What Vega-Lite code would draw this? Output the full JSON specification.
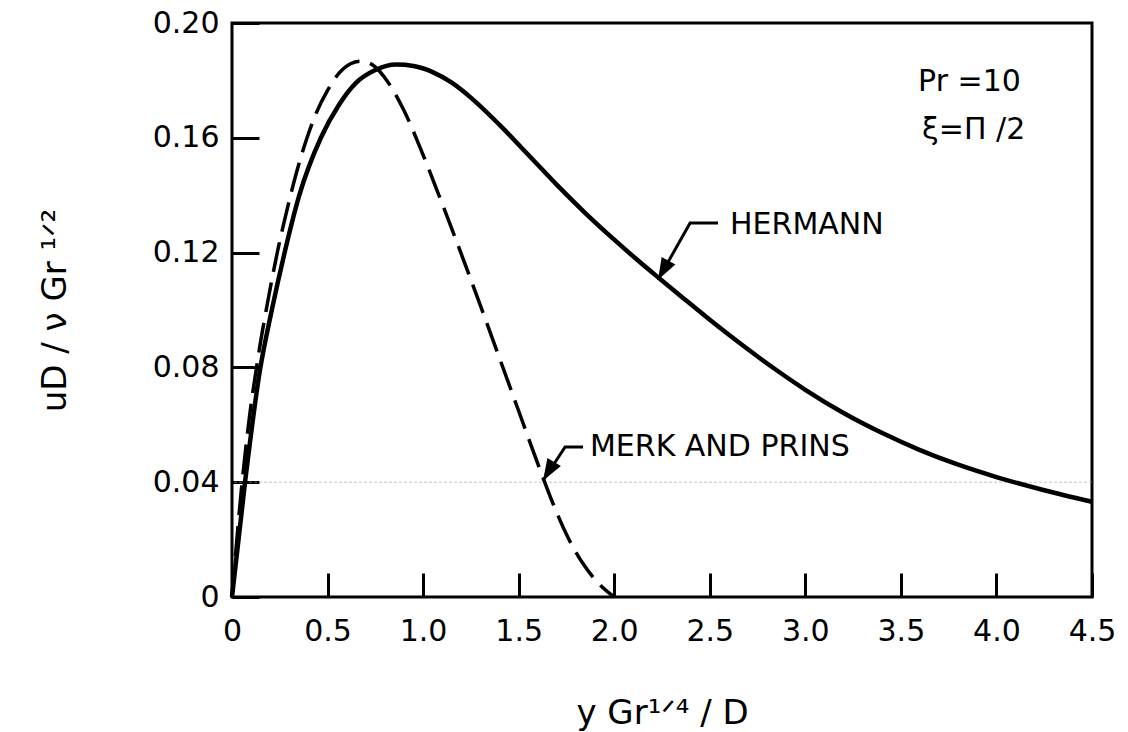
{
  "$schema": "https://vega.github.io/schema/vega-lite/v6.json",
  "width": 860,
  "height": 574,
  "autosize": {"type": "none"},
  "padding": {"left": 232, "top": 23, "right": 36, "bottom": 135},
  "background": "white",
  "config": {
    "view": {"stroke": "black", "strokeWidth": 3},
    "font": "DejaVu Sans",
    "axis": {
      "domain": false,
      "grid": false,
      "tickColor": "black",
      "tickWidth": 3,
      "labelColor": "black",
      "labelFontSize": 30,
      "labelFlush": false,
      "labelOverlap": false,
      "labelBound": false,
      "titleColor": "black",
      "titleFontWeight": "normal"
    }
  },
  "datasets": {
    "hermann": [
      {"x": 0, "y": 0},
      {"x": 0.07, "y": 0.041},
      {"x": 0.145, "y": 0.0785},
      {"x": 0.21, "y": 0.1005},
      {"x": 0.27, "y": 0.1185},
      {"x": 0.35, "y": 0.1395},
      {"x": 0.465, "y": 0.16},
      {"x": 0.56, "y": 0.1715},
      {"x": 0.65, "y": 0.1792},
      {"x": 0.75, "y": 0.1836},
      {"x": 0.86, "y": 0.1855},
      {"x": 0.95, "y": 0.185},
      {"x": 1.05, "y": 0.1829},
      {"x": 1.15, "y": 0.1792},
      {"x": 1.26, "y": 0.1734},
      {"x": 1.4, "y": 0.1645},
      {"x": 1.55, "y": 0.1541},
      {"x": 1.7, "y": 0.1436},
      {"x": 1.85, "y": 0.1337},
      {"x": 2.0, "y": 0.1245},
      {"x": 2.12, "y": 0.1175},
      {"x": 2.24, "y": 0.1108},
      {"x": 2.36, "y": 0.1042},
      {"x": 2.5, "y": 0.0966},
      {"x": 2.67, "y": 0.0878},
      {"x": 2.85, "y": 0.079},
      {"x": 3.0, "y": 0.0722},
      {"x": 3.2, "y": 0.0641},
      {"x": 3.4, "y": 0.0572},
      {"x": 3.6, "y": 0.0512},
      {"x": 3.8, "y": 0.0461},
      {"x": 4.0, "y": 0.0418},
      {"x": 4.25, "y": 0.0372},
      {"x": 4.5, "y": 0.0332}
    ],
    "merk": [
      {"x": 0, "y": 0},
      {"x": 0.05, "y": 0.038},
      {"x": 0.09, "y": 0.062},
      {"x": 0.14, "y": 0.085},
      {"x": 0.19, "y": 0.104},
      {"x": 0.24, "y": 0.121},
      {"x": 0.29, "y": 0.1355},
      {"x": 0.34, "y": 0.1485},
      {"x": 0.39, "y": 0.1595},
      {"x": 0.44, "y": 0.1685},
      {"x": 0.5, "y": 0.1765},
      {"x": 0.56, "y": 0.1825},
      {"x": 0.62, "y": 0.1858},
      {"x": 0.675, "y": 0.1867},
      {"x": 0.74, "y": 0.1852},
      {"x": 0.81, "y": 0.18},
      {"x": 0.9, "y": 0.1695},
      {"x": 1.0, "y": 0.154},
      {"x": 1.1, "y": 0.137},
      {"x": 1.2, "y": 0.1195},
      {"x": 1.3, "y": 0.1015},
      {"x": 1.4, "y": 0.0832},
      {"x": 1.5, "y": 0.0648},
      {"x": 1.6, "y": 0.0465},
      {"x": 1.68, "y": 0.0325},
      {"x": 1.76, "y": 0.0205},
      {"x": 1.84, "y": 0.0113},
      {"x": 1.92, "y": 0.0046},
      {"x": 2.0, "y": 0}
    ],
    "leaders": [
      {"arrow": "hermann", "k": 0, "x": 2.543, "y": 0.1303},
      {"arrow": "hermann", "k": 1, "x": 2.397, "y": 0.1303},
      {"arrow": "hermann", "k": 2, "x": 2.229, "y": 0.1105},
      {"arrow": "merk", "k": 0, "x": 1.837, "y": 0.0523},
      {"arrow": "merk", "k": 1, "x": 1.743, "y": 0.0523},
      {"arrow": "merk", "k": 2, "x": 1.627, "y": 0.0405}
    ],
    "notes": [
      {"text": "HERMANN", "x": 2.606, "y": 0.1296},
      {"text": "MERK AND PRINS", "x": 1.873, "y": 0.0523},
      {"text": "Pr =10", "x": 3.59, "y": 0.1794},
      {"text": "ξ=Π /2", "x": 3.611, "y": 0.1627}
    ]
  },
  "layer": [
    {
      "data": {"values": [{"y": 0.04}]},
      "mark": {"type": "rule", "color": "#9a9a9a", "strokeWidth": 1, "strokeDash": [3, 2], "opacity": 0.6},
      "encoding": {"y": {"field": "y", "type": "quantitative"}}
    },
    {
      "data": {"name": "hermann"},
      "mark": {"type": "line", "color": "black", "strokeWidth": 4.5, "interpolate": "monotone"},
      "encoding": {
        "x": {
          "field": "x",
          "type": "quantitative",
          "scale": {"domain": [0, 4.5], "nice": false, "zero": false},
          "axis": {
            "values": [0, 0.5, 1, 1.5, 2, 2.5, 3, 3.5, 4, 4.5],
            "labelExpr": "datum.value == 0 ? '0' : format(datum.value, '.1f')",
            "tickSize": -24,
            "labelPadding": 43,
            "title": "y Gr¹ᐟ⁴ / D",
            "titleFontSize": 34,
            "titlePadding": 50
          }
        },
        "y": {
          "field": "y",
          "type": "quantitative",
          "scale": {"domain": [0, 0.2], "nice": false, "zero": false},
          "axis": {
            "values": [0, 0.04, 0.08, 0.12, 0.16, 0.2],
            "labelExpr": "datum.value == 0 ? '0' : format(datum.value, '.2f')",
            "tickSize": -27,
            "labelPadding": 40,
            "title": "uD / ν Gr ¹ᐟ²",
            "titleFontSize": 34,
            "titlePadding": 80
          }
        }
      }
    },
    {
      "data": {"name": "merk"},
      "mark": {"type": "line", "color": "black", "strokeWidth": 3.5, "strokeDash": [30, 11], "interpolate": "monotone"},
      "encoding": {
        "x": {"field": "x", "type": "quantitative"},
        "y": {"field": "y", "type": "quantitative"}
      }
    },
    {
      "data": {"name": "leaders"},
      "mark": {"type": "line", "color": "black", "strokeWidth": 3},
      "encoding": {
        "x": {"field": "x", "type": "quantitative"},
        "y": {"field": "y", "type": "quantitative"},
        "detail": {"field": "arrow"},
        "order": {"field": "k", "type": "quantitative"}
      }
    },
    {
      "data": {"name": "leaders"},
      "transform": [{"filter": "datum.arrow == 'hermann' && datum.k == 2"}],
      "mark": {"type": "point", "shape": "M0,0 L-0.36,-1 L0.36,-1 Z", "size": 1900, "angle": 29, "filled": true, "color": "black", "opacity": 1},
      "encoding": {
        "x": {"field": "x", "type": "quantitative"},
        "y": {"field": "y", "type": "quantitative"}
      }
    },
    {
      "data": {"name": "leaders"},
      "transform": [{"filter": "datum.arrow == 'merk' && datum.k == 2"}],
      "mark": {"type": "point", "shape": "M0,0 L-0.36,-1 L0.36,-1 Z", "size": 1900, "angle": 31, "filled": true, "color": "black", "opacity": 1},
      "encoding": {
        "x": {"field": "x", "type": "quantitative"},
        "y": {"field": "y", "type": "quantitative"}
      }
    },
    {
      "data": {"name": "notes"},
      "mark": {"type": "text", "align": "left", "baseline": "middle", "fontSize": 30, "color": "black"},
      "encoding": {
        "x": {"field": "x", "type": "quantitative"},
        "y": {"field": "y", "type": "quantitative"},
        "text": {"field": "text"}
      }
    }
  ]
}
